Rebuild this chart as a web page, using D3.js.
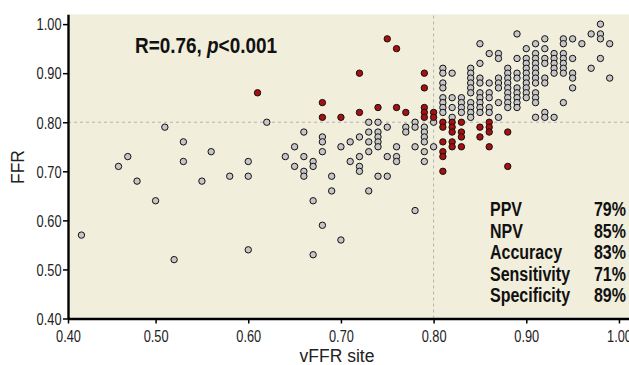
<!DOCTYPE html>
<html>
<head>
<meta charset="utf-8">
<script src="https://cdn.jsdelivr.net/npm/d3@7"></script>
<style>
  body { margin: 0; background: #fff; }
  svg { display: block; overflow: hidden; font-family: 'Liberation Sans', Arial, sans-serif; }
</style>
</head>
<body>
<svg id="chart" width="629" height="365"></svg>
<script>
// [vFFR, FFR] pairs
// concordant with the 0.80 cut-off (grey)
const concordant = [
  [0.42,0.57],[0.46,0.71],[0.47,0.73],[0.48,0.68],[0.50,0.64],[0.51,0.79],[0.52,0.52],
  [0.53,0.76],[0.53,0.72],[0.55,0.68],[0.56,0.74],[0.58,0.69],[0.60,0.72],[0.60,0.69],
  [0.60,0.54],[0.62,0.80],[0.64,0.73],[0.65,0.75],[0.65,0.71],[0.66,0.78],[0.66,0.73],
  [0.66,0.70],[0.66,0.69],[0.67,0.72],[0.67,0.71],[0.67,0.64],[0.67,0.53],[0.68,0.77],
  [0.68,0.76],[0.68,0.74],[0.68,0.59],[0.69,0.69],[0.69,0.66],[0.70,0.75],[0.70,0.56],
  [0.71,0.76],[0.71,0.72],[0.72,0.77],[0.72,0.73],[0.72,0.71],[0.72,0.70],[0.73,0.80],
  [0.73,0.78],[0.73,0.76],[0.73,0.74],[0.73,0.66],[0.74,0.80],[0.74,0.78],[0.74,0.77],
  [0.74,0.76],[0.74,0.75],[0.74,0.69],[0.75,0.79],[0.75,0.73],[0.75,0.69],[0.76,0.75],
  [0.76,0.73],[0.76,0.72],[0.77,0.79],[0.77,0.78],[0.78,0.80],[0.78,0.79],[0.78,0.75],
  [0.78,0.62],[0.79,0.79],[0.79,0.78],[0.79,0.77],[0.79,0.76],[0.79,0.74],[0.79,0.72],
  [0.80,0.80],[0.80,0.75],
  [0.81,0.91],[0.81,0.90],[0.81,0.88],[0.81,0.87],[0.81,0.85],[0.81,0.84],[0.81,0.83],[0.81,0.82],
  [0.82,0.90],[0.82,0.85],[0.82,0.83],[0.82,0.81],
  [0.83,0.85],[0.83,0.84],[0.83,0.83],[0.83,0.82],
  [0.84,0.91],[0.84,0.90],[0.84,0.89],[0.84,0.88],[0.84,0.87],[0.84,0.86],[0.84,0.84],[0.84,0.83],[0.84,0.82],[0.84,0.81],
  [0.85,0.96],[0.85,0.92],[0.85,0.89],[0.85,0.88],[0.85,0.86],[0.85,0.85],[0.85,0.84],[0.85,0.83],[0.85,0.82],
  [0.86,0.94],[0.86,0.88],[0.86,0.86],[0.86,0.85],[0.86,0.83],[0.86,0.82],
  [0.87,0.94],[0.87,0.93],[0.87,0.89],[0.87,0.88],[0.87,0.87],[0.87,0.84],[0.87,0.81],
  [0.88,0.91],[0.88,0.90],[0.88,0.89],[0.88,0.88],[0.88,0.87],[0.88,0.86],[0.88,0.85],[0.88,0.84],[0.88,0.83],
  [0.89,0.98],[0.89,0.93],[0.89,0.90],[0.89,0.89],[0.89,0.87],[0.89,0.86],[0.89,0.85],[0.89,0.84],[0.89,0.83],
  [0.90,0.95],[0.90,0.93],[0.90,0.92],[0.90,0.91],[0.90,0.90],[0.90,0.89],[0.90,0.88],[0.90,0.87],[0.90,0.86],[0.90,0.85],
  [0.91,0.96],[0.91,0.94],[0.91,0.93],[0.91,0.92],[0.91,0.91],[0.91,0.90],[0.91,0.89],[0.91,0.88],[0.91,0.86],[0.91,0.85],[0.91,0.84],[0.91,0.81],
  [0.92,0.97],[0.92,0.95],[0.92,0.93],[0.92,0.92],[0.92,0.89],[0.92,0.88],[0.92,0.82],[0.92,0.81],
  [0.93,0.94],[0.93,0.93],[0.93,0.92],[0.93,0.91],[0.93,0.90],[0.93,0.81],
  [0.94,0.97],[0.94,0.96],[0.94,0.94],[0.94,0.93],[0.94,0.92],[0.94,0.91],[0.94,0.90],[0.94,0.84],
  [0.95,0.97],[0.95,0.93],[0.95,0.90],[0.95,0.89],[0.95,0.87],
  [0.96,0.96],[0.97,0.98],[0.97,0.91],[0.98,1.00],[0.98,0.98],[0.98,0.97],[0.98,0.93],
  [0.99,0.96],[0.99,0.89]
];

// discordant (red)
const discordant = [
  [0.61,0.86],[0.68,0.84],[0.68,0.81],[0.70,0.81],[0.72,0.90],[0.72,0.82],[0.74,0.83],
  [0.75,0.97],[0.76,0.95],[0.76,0.83],[0.77,0.82],[0.79,0.90],[0.79,0.87],[0.79,0.83],
  [0.79,0.82],[0.79,0.81],[0.80,0.82],[0.80,0.81],
  [0.81,0.80],[0.81,0.79],[0.81,0.76],[0.81,0.74],[0.81,0.73],[0.81,0.70],
  [0.82,0.80],[0.82,0.79],[0.82,0.78],[0.82,0.76],[0.82,0.75],
  [0.83,0.80],[0.83,0.78],[0.83,0.77],[0.83,0.75],
  [0.85,0.79],[0.85,0.77],[0.86,0.80],[0.86,0.79],[0.86,0.78],[0.86,0.75],
  [0.88,0.78],[0.88,0.71]
];

const cutoff = 0.80;
const statLabels = ['PPV', 'NPV', 'Accuracy', 'Sensitivity', 'Specificity'];
const statValues = ['79%', '85%', '83%', '71%', '89%'];
const xTickLabels = ['0.40', '0.50', '0.60', '0.70', '0.80', '0.90', '1.00'];
const yTicks = [0.40, 0.50, 0.60, 0.70, 0.80, 0.90, 1.00];

const squeeze = 0.8; // condensed look for the narrow type

const xMin = 0.4055, xMax = 1.0227;
const x = d3.scaleLinear().domain([xMin, xMax]).range([68, 640]);
const y = d3.scaleLinear().domain([0.40, 1.02]).range([318.5, 14.3]);

const svg = d3.select('#chart');

// plot background
svg.append('rect')
  .attr('x', x(xMin)).attr('y', y(1.02))
  .attr('width', x(xMax) - x(xMin)).attr('height', y(0.40) - y(1.02))
  .attr('fill', '#f1eedc');

// cut-off reference lines
svg.append('line')
  .attr('x1', x(xMin)).attr('x2', x(xMax))
  .attr('y1', y(cutoff)).attr('y2', y(cutoff))
  .attr('stroke', '#b4b4b4').attr('stroke-width', 1).attr('stroke-dasharray', '3,3');
svg.append('line')
  .attr('x1', x(cutoff)).attr('x2', x(cutoff))
  .attr('y1', y(0.40)).attr('y2', y(1.02))
  .attr('stroke', '#b4b4b4').attr('stroke-width', 1).attr('stroke-dasharray', '3,3');

// points
const drawPoints = (data, fill) => {
  svg.append('g').selectAll('circle')
    .data(data)
    .enter().append('circle')
    .attr('cx', d => x(d[0]))
    .attr('cy', d => y(d[1]))
    .attr('r', 3.2)
    .attr('fill', fill)
    .attr('stroke', '#111')
    .attr('stroke-width', 1);
};
drawPoints(concordant, '#c6c6c8');
drawPoints(discordant, '#a8100f');

// axes
const xTickVals = [xMin, 0.5, 0.6, 0.7, 0.8, 0.9, 1.0];
const xAxis = svg.append('g')
  .attr('transform', 'translate(0,' + y(0.40) + ')')
  .call(d3.axisBottom(x).tickValues(xTickVals).tickSize(5).tickSizeOuter(0)
    .tickFormat((d, i) => xTickLabels[i]));

const yAxis = svg.append('g')
  .attr('transform', 'translate(' + x(xMin) + ',0)')
  .call(d3.axisLeft(y).tickValues(yTicks).tickSize(5).tickSizeOuter(0)
    .tickFormat(d3.format('.2f')));

[xAxis, yAxis].forEach(a => {
  a.select('.domain').attr('stroke', '#000').attr('stroke-width', 2.4);
  a.selectAll('.tick line').attr('stroke', '#000').attr('stroke-width', 1.5);
  a.selectAll('.tick text')
    .attr('font-family', "'Liberation Sans', Arial, sans-serif")
    .attr('font-size', 16).attr('fill', '#222')
    .attr('transform', 'scale(' + squeeze + ',1)');
});
xAxis.selectAll('.tick text').attr('dy', '1.0em');
yAxis.selectAll('.tick text').attr('x', -6.5 / squeeze).attr('dy', '0.36em');

// axis titles
svg.append('text')
  .attr('x', 337).attr('y', 362)
  .attr('text-anchor', 'middle')
  .attr('font-size', 17.5).attr('fill', '#222')
  .text('vFFR site');

svg.append('text')
  .attr('transform', 'translate(24,167) rotate(-90)')
  .attr('text-anchor', 'middle')
  .attr('font-size', 17.5).attr('fill', '#222')
  .text('FFR');

// correlation annotation
const note = svg.append('text')
  .attr('transform', 'translate(135,53) scale(0.88,1)')
  .attr('font-size', 21.5).attr('font-weight', 'bold').attr('fill', '#111');
note.append('tspan').text('R=0.76, ');
note.append('tspan').attr('font-style', 'italic').text('p');
note.append('tspan').text('<0.001');

// diagnostic performance table
const stats = svg.append('g')
  .attr('transform', 'translate(490,0) scale(' + squeeze + ',1)')
  .attr('font-size', 20).attr('font-weight', 'bold').attr('fill', '#111');
stats.selectAll('text.lab')
  .data(statLabels)
  .enter().append('text')
  .attr('class', 'lab')
  .attr('x', 0)
  .attr('y', (d, i) => 216.5 + i * 21.5)
  .text(d => d);
stats.selectAll('text.val')
  .data(statValues)
  .enter().append('text')
  .attr('class', 'val')
  .attr('x', (626 - 490) / squeeze)
  .attr('text-anchor', 'end')
  .attr('y', (d, i) => 216.5 + i * 21.5)
  .text(d => d);
</script>
</body>
</html>
